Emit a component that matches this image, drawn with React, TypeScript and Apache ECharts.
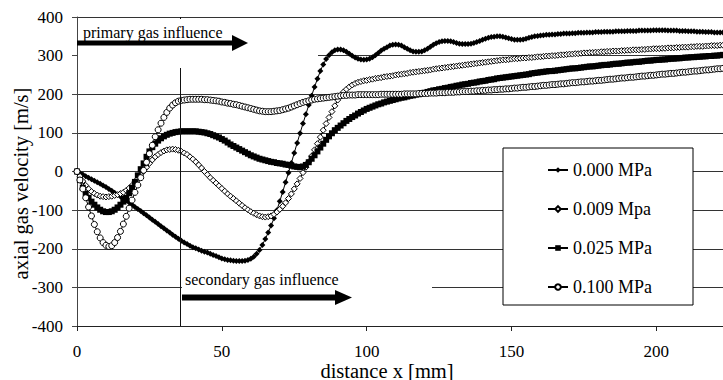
import React, { useEffect, useRef } from "react";
import * as echarts from "echarts";

// Axial gas velocity (m/s) sampled every 1 mm along the axis, x = 0 … 223 mm.
const STEP_MM = 1;

const v0000: number[] = [
  0, -4, -8, -12, -16, -20, -24, -28, -32, -36, -40, -45, -50, -55, -60, -65, -70, -75, -80, -86,
  -92, -97, -102, -108, -113, -119, -125, -130, -136, -142, -147, -153, -158, -164, -169, -174, -179, -184, -188, -192,
  -196, -199, -202, -205, -208, -210, -213, -216, -219, -222, -225, -227, -229, -230, -231, -232, -232, -232, -231, -229,
  -226, -221, -213, -203, -190, -175, -158, -140, -121, -100, -77, -53, -28, -3, 22, 48, 74, 99, 124, 148,
  172, 196, 219, 240, 260, 277, 291, 301, 309, 314, 316, 316, 314, 310, 305, 300, 295, 292, 290, 289,
  290, 292, 296, 301, 307, 313, 318, 322, 326, 328, 329, 328, 326, 322, 318, 314, 311, 310, 310, 311,
  314, 318, 323, 328, 332, 335, 337, 338, 338, 337, 335, 333, 331, 330, 330, 330, 331, 333, 335, 338,
  341, 344, 346, 348, 349, 350, 350, 349, 347, 345, 343, 341, 341, 341, 342, 344, 346, 348, 350, 351,
  352, 353, 354, 354, 355, 355, 356, 356, 357, 357, 357, 358, 358, 359, 359, 359, 360, 360, 360, 361,
  361, 361, 362, 362, 362, 362, 363, 363, 363, 363, 364, 364, 364, 364, 365, 365, 365, 365, 365, 366,
  366, 366, 366, 366, 365, 365, 365, 365, 364, 364, 364, 363, 363, 363, 362, 362, 362, 361, 361, 361,
  360, 360, 360, 360,
];

const v0009: number[] = [
  0, -12, -25, -36, -45, -52, -57, -61, -64, -65, -66, -65, -64, -62, -60, -57, -54, -49, -43, -36,
  -27, -18, -9, 1, 11, 21, 30, 38, 44, 49, 53, 56, 57, 58, 57, 55, 52, 48, 44, 38,
  32, 25, 17, 9, 0, -8, -16, -23, -30, -37, -44, -51, -58, -64, -70, -76, -82, -88, -94, -99,
  -104, -108, -112, -115, -117, -118, -117, -115, -111, -105, -98, -90, -81, -70, -58, -45, -32, -18, -3, 11,
  25, 40, 56, 72, 89, 107, 124, 140, 155, 170, 185, 197, 206, 213, 219, 224, 228, 231, 233, 235,
  236, 238, 239, 241, 242, 243, 245, 246, 247, 248, 250, 251, 252, 253, 254, 256, 257, 258, 259, 260,
  261, 262, 263, 265, 266, 267, 268, 269, 270, 271, 272, 273, 274, 275, 276, 277, 278, 279, 280, 281,
  282, 283, 284, 285, 286, 287, 288, 289, 289, 290, 291, 292, 292, 293, 294, 294, 295, 295, 296, 297,
  297, 298, 299, 299, 300, 300, 301, 302, 302, 303, 304, 304, 305, 305, 306, 307, 307, 308, 308, 309,
  309, 310, 310, 311, 311, 312, 312, 312, 313, 313, 314, 314, 315, 315, 315, 316, 316, 317, 317, 318,
  318, 318, 319, 319, 320, 320, 320, 321, 321, 322, 322, 322, 323, 323, 324, 324, 324, 325, 325, 326,
  326, 326, 327, 327,
];

const v0025: number[] = [
  0, -22, -42, -57, -68, -78, -86, -93, -99, -103, -105, -105, -103, -99, -93, -86, -78, -68, -56, -42,
  -27, -10, 6, 21, 38, 52, 63, 72, 80, 86, 91, 95, 98, 100, 102, 103, 104, 104, 104, 104,
  104, 104, 103, 102, 101, 99, 97, 94, 91, 88, 84, 80, 75, 70, 66, 62, 58, 54, 50, 46,
  42, 39, 36, 33, 31, 29, 27, 25, 24, 22, 21, 20, 18, 17, 15, 13, 12, 11, 13, 17,
  24, 33, 42, 52, 62, 72, 82, 91, 99, 107, 113, 119, 125, 131, 136, 141, 145, 150, 154, 158,
  162, 165, 168, 171, 174, 176, 179, 181, 183, 185, 187, 189, 191, 192, 194, 196, 197, 199, 200, 202,
  204, 206, 208, 210, 211, 213, 214, 216, 217, 219, 220, 222, 223, 225, 226, 227, 229, 230, 231, 233,
  234, 235, 237, 238, 239, 241, 242, 243, 244, 245, 246, 247, 248, 249, 250, 251, 252, 254, 255, 256,
  257, 258, 259, 260, 260, 261, 262, 263, 264, 265, 266, 267, 267, 268, 269, 270, 271, 272, 272, 273,
  274, 275, 276, 276, 277, 278, 279, 279, 280, 281, 282, 282, 283, 284, 284, 285, 286, 287, 287, 288,
  289, 289, 290, 290, 291, 292, 292, 293, 293, 294, 295, 295, 296, 296, 297, 297, 298, 298, 299, 299,
  300, 300, 301, 302,
];

const v0100: number[] = [
  0, -22, -45, -68, -92, -115, -137, -156, -172, -184, -191, -194, -192, -184, -171, -155, -136, -116, -95, -74,
  -54, -35, -16, 3, 24, 46, 68, 90, 108, 125, 140, 153, 164, 172, 178, 182, 184, 185, 186, 187,
  187, 187, 187, 187, 186, 186, 185, 184, 183, 182, 180, 179, 177, 176, 174, 173, 171, 169, 167, 165,
  163, 161, 159, 157, 156, 155, 155, 155, 156, 157, 158, 160, 162, 164, 167, 170, 173, 176, 179, 181,
  183, 185, 187, 188, 189, 190, 191, 192, 193, 194, 195, 196, 197, 197, 198, 198, 198, 199, 199, 199,
  199, 199, 199, 199, 199, 200, 200, 200, 200, 200, 200, 200, 200, 201, 201, 201, 201, 201, 202, 202,
  202, 202, 203, 203, 203, 204, 204, 204, 205, 205, 205, 206, 206, 207, 207, 207, 208, 208, 209, 209,
  210, 210, 211, 211, 212, 212, 213, 213, 214, 214, 215, 216, 216, 217, 218, 218, 219, 220, 220, 221,
  222, 223, 223, 224, 225, 225, 226, 227, 227, 228, 229, 230, 230, 231, 232, 232, 233, 234, 234, 235,
  236, 236, 237, 238, 239, 239, 240, 241, 242, 242, 243, 244, 244, 245, 246, 247, 247, 248, 249, 249,
  250, 251, 252, 252, 253, 254, 254, 255, 256, 257, 257, 258, 259, 260, 260, 261, 262, 263, 263, 264,
  265, 266, 266, 267,
];

const seriesNames = ["0.000 MPa", "0.009 Mpa", "0.025 MPa", "0.100 MPa"];
const yTicks = [-400, -300, -200, -100, 0, 100, 200, 300, 400];
const xTicks = [0, 50, 100, 150, 200];
const secondaryGasStartMm = 35.7;

const SERIF = "'Liberation Serif', 'Times New Roman', serif";

const toPairs = (vals: number[]) => vals.map((v, i) => [i * STEP_MM, v]);

export default function App() {
  const ref = useRef<HTMLDivElement>(null);

  useEffect(() => {
    document.body.style.margin = "0";
    if (!ref.current) return;
    const chart = echarts.init(ref.current, undefined, { renderer: "svg" });

    const lineBase = {
      type: "line" as const,
      lineStyle: { color: "#000", width: 1 },
      emphasis: { disabled: true },
      clip: true,
    };

    chart.setOption({
      animation: false,
      backgroundColor: "#fff",
      textStyle: { fontFamily: SERIF, color: "#000" },
      grid: {
        left: 77,
        right: 0,
        top: 17,
        bottom: 54,
        containLabel: false,
        outerBoundsMode: "none",
      },
      xAxis: {
        type: "value",
        min: xTicks[0],
        max: 223,
        interval: 50,
        name: "distance x [mm]",
        nameLocation: "middle",
        nameGap: 34,
        nameMoveOverlap: false,
        nameTextStyle: { fontFamily: SERIF, fontSize: 20.5, color: "#000", padding: [0, 26, 0, 0] },
        axisLine: { show: true, onZero: false, lineStyle: { color: "#222", width: 1 } },
        axisTick: { show: true, length: 5, lineStyle: { color: "#222" } },
        axisLabel: {
          fontFamily: SERIF,
          fontSize: 17,
          color: "#000",
          margin: 17,
          showMaxLabel: false,
          formatter: (v: number) => (xTicks.includes(v) ? String(v) : ""),
        },
        splitLine: { show: false },
      },
      yAxis: {
        type: "value",
        min: yTicks[0],
        max: yTicks[yTicks.length - 1],
        interval: 100,
        name: "axial gas velocity [m/s]",
        nameLocation: "middle",
        nameGap: 46,
        nameMoveOverlap: false,
        nameTextStyle: { fontFamily: SERIF, fontSize: 20.5, color: "#000", padding: [0, 24, 0, 0] },
        axisLine: { show: true, lineStyle: { color: "#444", width: 1 } },
        axisTick: { show: true, length: 5, lineStyle: { color: "#444" } },
        axisLabel: { fontFamily: SERIF, fontSize: 17, color: "#000", margin: 14 },
        splitLine: { show: true, lineStyle: { color: "#333", width: 1 } },
      },
      legend: {
        orient: "vertical",
        left: 503,
        top: 148,
        padding: [13, 41, 9, 44],
        itemGap: 21,
        itemWidth: 20,
        itemHeight: 7,
        backgroundColor: "#fff",
        borderColor: "#000",
        borderWidth: 1,
        borderRadius: 0,
        selectedMode: false,
        textStyle: { fontFamily: SERIF, fontSize: 18, lineHeight: 18, color: "#000" },
        data: seriesNames,
      },
      series: [
        {
          ...lineBase,
          name: seriesNames[0],
          data: toPairs(v0000),
          symbol: "diamond",
          symbolSize: 6,
          itemStyle: { color: "#000", borderColor: "#000", borderWidth: 0 },
          markLine: {
            silent: true,
            symbol: ["none", "none"],
            label: { show: false },
            lineStyle: { color: "#111", width: 1, type: "solid" },
            data: [
              [
                { coord: [secondaryGasStartMm, yTicks[0]] },
                { coord: [secondaryGasStartMm, yTicks[yTicks.length - 1]] },
              ],
            ],
          },
        },
        {
          ...lineBase,
          name: seriesNames[1],
          data: toPairs(v0009),
          symbol: "diamond",
          symbolSize: 6,
          itemStyle: { color: "#fff", borderColor: "#000", borderWidth: 1 },
        },
        {
          ...lineBase,
          name: seriesNames[2],
          data: toPairs(v0025),
          symbol: "rect",
          symbolSize: 6,
          itemStyle: { color: "#000", borderColor: "#000", borderWidth: 0 },
        },
        {
          ...lineBase,
          name: seriesNames[3],
          data: toPairs(v0100),
          symbol: "circle",
          symbolSize: 6,
          itemStyle: { color: "#fff", borderColor: "#000", borderWidth: 1 },
        },
      ],
      graphic: [
        // "primary gas influence" note with its arrow
        { type: "rect", z: 10, shape: { x: 78, y: 19, width: 240, height: 49 }, style: { fill: "#fff" } },
        {
          type: "text",
          z: 11,
          x: 83,
          y: 32,
          style: { text: "primary gas influence", font: `16px ${SERIF}`, fill: "#000", verticalAlign: "middle" },
        },
        {
          type: "polygon",
          z: 11,
          shape: {
            points: [
              [77, 40.5], [232, 40.5], [232, 35], [248, 43], [232, 51], [232, 45.5], [77, 45.5],
            ],
          },
          style: { fill: "#000" },
        },
        // "secondary gas influence" note with its arrow
        { type: "rect", z: 10, shape: { x: 182, y: 266, width: 250, height: 50 }, style: { fill: "#fff" } },
        {
          type: "text",
          z: 11,
          x: 185,
          y: 279,
          style: { text: "secondary gas influence", font: `16px ${SERIF}`, fill: "#000", verticalAlign: "middle" },
        },
        {
          type: "polygon",
          z: 11,
          shape: {
            points: [
              [182, 294.5], [335, 294.5], [335, 290], [352, 297.5], [335, 305], [335, 300.5], [182, 300.5],
            ],
          },
          style: { fill: "#000" },
        },
      ],
    });

    return () => chart.dispose();
  }, []);

  return <div ref={ref} style={{ width: 723, height: 380 }} />;
}
